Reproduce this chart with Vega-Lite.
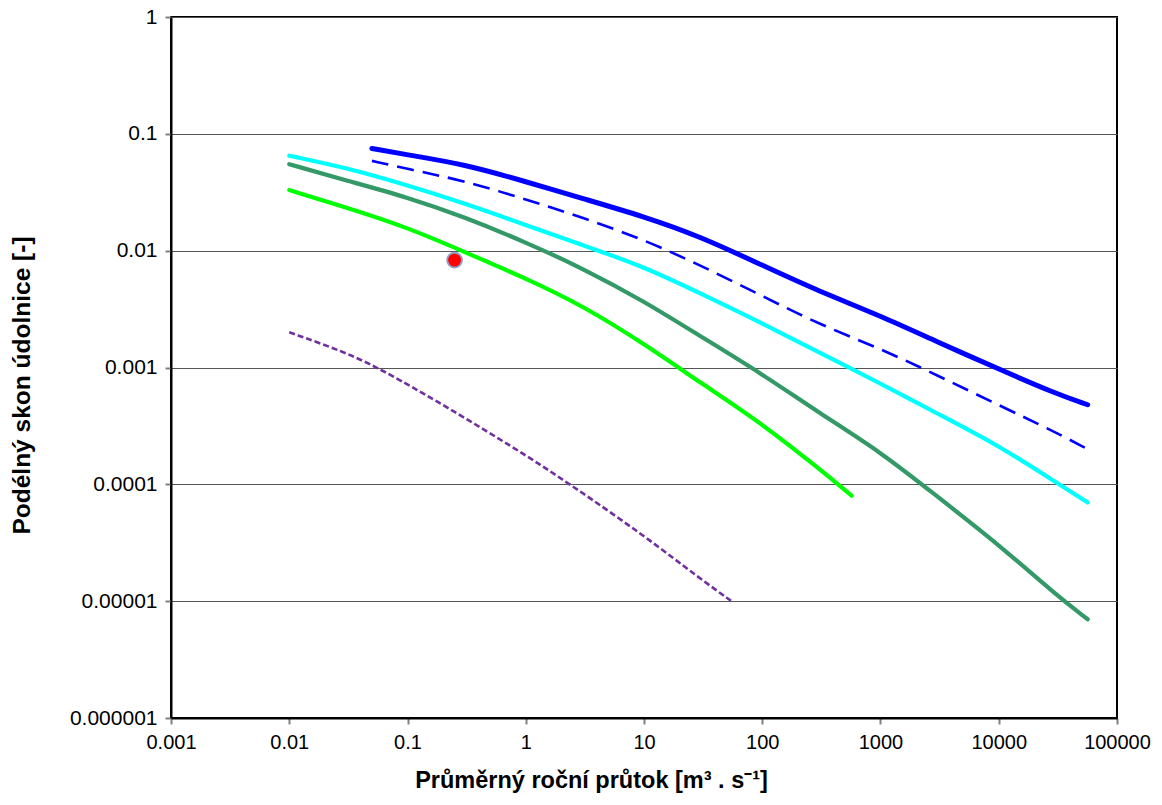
{
  "$schema": "https://vega.github.io/schema/vega-lite/v6.json",
  "width": 946,
  "height": 701,
  "autosize": "none",
  "padding": {"left": 171, "top": 17, "right": 45, "bottom": 87},
  "background": "white",
  "config": {
    "font": "Liberation Sans",
    "view": {"stroke": "#000000", "strokeWidth": 2}
  },
  "data": {
    "values": [
      {"series": "A", "Q": 0.05, "S": 0.075},
      {"series": "A", "Q": 0.1, "S": 0.066},
      {"series": "A", "Q": 0.3, "S": 0.055},
      {"series": "A", "Q": 1, "S": 0.039},
      {"series": "A", "Q": 3, "S": 0.028},
      {"series": "A", "Q": 10, "S": 0.0196},
      {"series": "A", "Q": 30, "S": 0.0132},
      {"series": "A", "Q": 100, "S": 0.0075},
      {"series": "A", "Q": 300, "S": 0.0045},
      {"series": "A", "Q": 1000, "S": 0.00277},
      {"series": "A", "Q": 3000, "S": 0.00166},
      {"series": "A", "Q": 10000, "S": 0.00097},
      {"series": "A", "Q": 30000, "S": 0.0006},
      {"series": "A", "Q": 56500, "S": 0.00048},
      {"series": "B", "Q": 0.05, "S": 0.0587},
      {"series": "B", "Q": 0.1, "S": 0.05},
      {"series": "B", "Q": 0.3, "S": 0.0398},
      {"series": "B", "Q": 1, "S": 0.0275},
      {"series": "B", "Q": 3, "S": 0.0193},
      {"series": "B", "Q": 10, "S": 0.0124},
      {"series": "B", "Q": 30, "S": 0.0075},
      {"series": "B", "Q": 100, "S": 0.0041},
      {"series": "B", "Q": 300, "S": 0.00235},
      {"series": "B", "Q": 1000, "S": 0.00145},
      {"series": "B", "Q": 3000, "S": 0.00086},
      {"series": "B", "Q": 10000, "S": 0.000476},
      {"series": "B", "Q": 30000, "S": 0.000281},
      {"series": "B", "Q": 56500, "S": 0.0002},
      {"series": "C", "Q": 0.01, "S": 0.065},
      {"series": "C", "Q": 0.03, "S": 0.0514},
      {"series": "C", "Q": 0.1, "S": 0.0363},
      {"series": "C", "Q": 0.3, "S": 0.0255},
      {"series": "C", "Q": 1, "S": 0.0166},
      {"series": "C", "Q": 3, "S": 0.0112},
      {"series": "C", "Q": 10, "S": 0.0073},
      {"series": "C", "Q": 30, "S": 0.00431},
      {"series": "C", "Q": 100, "S": 0.00239},
      {"series": "C", "Q": 300, "S": 0.00135},
      {"series": "C", "Q": 1000, "S": 0.00073},
      {"series": "C", "Q": 3000, "S": 0.000405},
      {"series": "C", "Q": 10000, "S": 0.000215},
      {"series": "C", "Q": 30000, "S": 0.000105},
      {"series": "C", "Q": 56500, "S": 0.00007},
      {"series": "D", "Q": 0.01, "S": 0.055},
      {"series": "D", "Q": 0.03, "S": 0.04},
      {"series": "D", "Q": 0.1, "S": 0.0287},
      {"series": "D", "Q": 0.3, "S": 0.0195},
      {"series": "D", "Q": 1, "S": 0.0118},
      {"series": "D", "Q": 3, "S": 0.0071},
      {"series": "D", "Q": 10, "S": 0.0037},
      {"series": "D", "Q": 30, "S": 0.00185},
      {"series": "D", "Q": 100, "S": 0.00088},
      {"series": "D", "Q": 300, "S": 0.00041},
      {"series": "D", "Q": 1000, "S": 0.00019},
      {"series": "D", "Q": 3000, "S": 0.000079},
      {"series": "D", "Q": 10000, "S": 0.0000305},
      {"series": "D", "Q": 30000, "S": 0.0000115},
      {"series": "D", "Q": 56500, "S": 0.000007},
      {"series": "E", "Q": 0.01, "S": 0.033},
      {"series": "E", "Q": 0.03, "S": 0.0235},
      {"series": "E", "Q": 0.1, "S": 0.0158},
      {"series": "E", "Q": 0.3, "S": 0.0098},
      {"series": "E", "Q": 1, "S": 0.0058},
      {"series": "E", "Q": 3, "S": 0.0034},
      {"series": "E", "Q": 10, "S": 0.0016},
      {"series": "E", "Q": 30, "S": 0.00074},
      {"series": "E", "Q": 100, "S": 0.00033},
      {"series": "E", "Q": 300, "S": 0.000137},
      {"series": "E", "Q": 570, "S": 0.00008},
      {"series": "F", "Q": 0.01, "S": 0.002},
      {"series": "F", "Q": 0.03, "S": 0.00135},
      {"series": "F", "Q": 0.055, "S": 0.001},
      {"series": "F", "Q": 0.1, "S": 0.00072},
      {"series": "F", "Q": 0.3, "S": 0.000375},
      {"series": "F", "Q": 1, "S": 0.000178},
      {"series": "F", "Q": 2.37, "S": 0.0001},
      {"series": "F", "Q": 10, "S": 0.0000365},
      {"series": "F", "Q": 30, "S": 0.0000155},
      {"series": "F", "Q": 55, "S": 0.00001},
      {"series": "P", "Q": 0.25, "S": 0.0083}
    ]
  },
  "encoding": {
    "x": {
      "field": "Q", "type": "quantitative",
      "scale": {"type": "log", "domain": [0.001, 100000], "nice": false},
      "axis": {
        "values": [0.001, 0.01, 0.1, 1, 10, 100, 1000, 10000, 100000],
        "format": ".3~f",
        "grid": false,
        "domainColor": "#000000", "domainWidth": 2,
        "tickColor": "#808080", "tickWidth": 2, "tickSize": 6,
        "labelFontSize": 20, "labelColor": "#000000", "labelPadding": 8,
        "labelFlush": false, "labelOverlap": false,
        "title": "Průměrný roční průtok [m³ . s⁻¹]",
        "titleFontSize": 23.5, "titleFontWeight": "bold", "titleColor": "#000000",
        "titleX": 420, "titleY": 69, "titleBaseline": "alphabetic", "titleAlign": "center"
      }
    },
    "y": {
      "field": "S", "type": "quantitative",
      "scale": {"type": "log", "domain": [0.000001, 1], "nice": false},
      "axis": {
        "values": [0.000001, 0.00001, 0.0001, 0.001, 0.01, 0.1, 1],
        "format": ".6~f",
        "grid": true, "gridColor": "#555555", "gridWidth": 1.2,
        "domainColor": "#000000", "domainWidth": 2,
        "tickColor": "#808080", "tickWidth": 2, "tickSize": 6,
        "labelFontSize": 21, "labelColor": "#000000", "labelPadding": 8,
        "labelFlush": false, "labelOverlap": false,
        "title": "Podélný skon údolnice [-]",
        "titleFontSize": 24.5, "titleFontWeight": "bold", "titleColor": "#000000",
        "titleAngle": -90, "titleX": -149, "titleY": 368, "titleBaseline": "middle", "titleAlign": "center"
      }
    },
    "color": {"field": "series", "type": "nominal", "scale": {"domain": ["A", "B", "C", "D", "E", "F", "P"], "range": ["#0000FF", "#0000FF", "#00FFFF", "#339966", "#00FF00", "#7030A0", "#FF0000"]}, "legend": null}
  },
  "layer": [
    {
      "transform": [{"filter": "datum.series === 'C' || datum.series === 'D' || datum.series === 'E'"}],
      "mark": {"type": "line", "strokeCap": "round", "strokeJoin": "round", "interpolate": "basis", "strokeWidth": 4.2}
    },
    {
      "transform": [{"filter": "datum.series === 'A'"}],
      "mark": {"type": "line", "strokeCap": "round", "strokeJoin": "round", "interpolate": "basis", "strokeWidth": 5}
    },
    {
      "transform": [{"filter": "datum.series === 'B' || datum.series === 'F'"}],
      "mark": {"type": "line", "strokeCap": "butt", "interpolate": "basis", "strokeWidth": 2.6},
      "encoding": {
        "strokeDash": {"field": "series", "type": "nominal", "scale": {"domain": ["B", "F"], "range": [[17, 9], [6, 3]]}, "legend": null}
      }
    },
    {
      "transform": [{"filter": "datum.series === 'P'"}],
      "mark": {"type": "point", "filled": true, "fill": "#FF0000", "stroke": "#8EA0C8", "strokeWidth": 2, "size": 220, "opacity": 1},
      "encoding": {"color": {"value": "#FF0000"}}
    }
  ]
}
